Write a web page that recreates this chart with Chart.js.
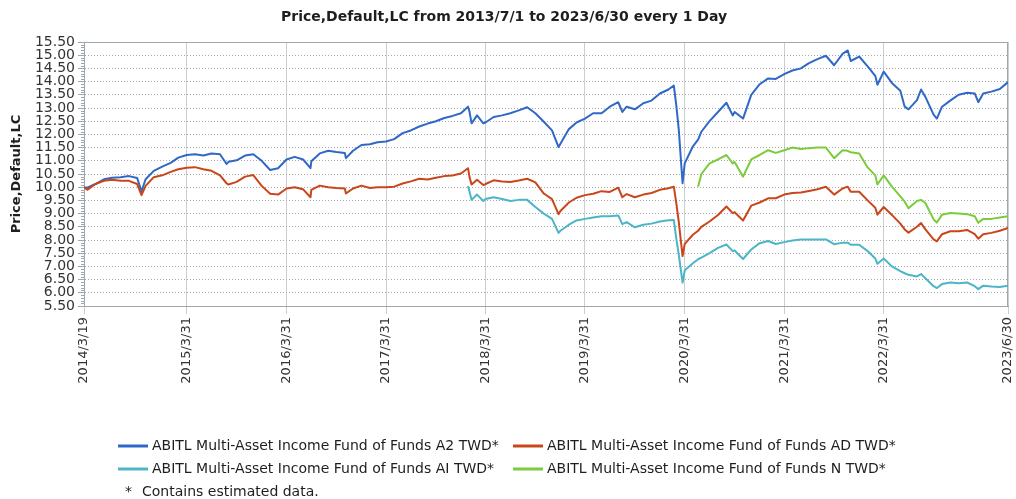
<!DOCTYPE html>
<html>
<head>
<meta charset="utf-8">
<title>ABITL Multi-Asset Income Fund of Funds</title>
<script src="https://cdn.jsdelivr.net/npm/chart.js@4.4.0/dist/chart.umd.min.js"></script>
<style>
  html, body { margin: 0; padding: 0; background: #fff; }
  #wrap { width: 1016px; height: 499px; }
</style>
</head>
<body>
<div id="wrap"><canvas id="priceChart" width="1016" height="499"></canvas></div>
<script>
// dates shared by all series (month ends plus a few turning points)
const dates = [
  "2014-03-19","2014-03-31","2014-04-30","2014-05-31","2014-06-30","2014-07-31","2014-08-31","2014-09-30","2014-10-16","2014-10-31","2014-11-30","2014-12-31",
  "2015-01-31","2015-02-28","2015-03-31","2015-04-30","2015-05-31","2015-06-30","2015-07-31","2015-08-24","2015-08-31","2015-09-30","2015-10-31","2015-11-30","2015-12-31",
  "2016-01-31","2016-02-29","2016-03-31","2016-04-30","2016-05-31","2016-06-27","2016-06-30","2016-07-31","2016-08-31","2016-09-30","2016-10-31","2016-11-04","2016-11-30","2016-12-31",
  "2017-01-31","2017-02-28","2017-03-31","2017-04-30","2017-05-31","2017-06-30","2017-07-31","2017-08-31","2017-09-30","2017-10-31","2017-11-30","2017-12-31",
  "2018-01-26","2018-01-31","2018-02-08","2018-02-28","2018-03-23","2018-03-31","2018-04-30","2018-05-31","2018-06-30","2018-07-31","2018-08-31","2018-09-30","2018-10-31","2018-11-30","2018-12-24","2018-12-31",
  "2019-01-31","2019-02-28","2019-03-31","2019-04-30","2019-05-31","2019-06-30","2019-07-31","2019-08-15","2019-08-31","2019-09-30","2019-10-31","2019-11-30","2019-12-31",
  "2020-01-31","2020-02-20","2020-02-29","2020-03-09","2020-03-23","2020-03-31","2020-04-30","2020-05-19","2020-05-31","2020-06-30","2020-07-31","2020-08-31","2020-09-23","2020-09-30","2020-10-31","2020-11-30","2020-12-31",
  "2021-01-31","2021-02-28","2021-03-31","2021-04-30","2021-05-31","2021-06-30","2021-07-31","2021-08-31","2021-09-30","2021-10-31","2021-11-19","2021-11-30","2021-12-31",
  "2022-01-31","2022-02-28","2022-03-08","2022-03-31","2022-04-30","2022-05-31","2022-06-16","2022-06-30","2022-07-31","2022-08-15","2022-08-31","2022-09-30","2022-10-12","2022-10-31","2022-11-30","2022-12-31",
  "2023-01-31","2023-02-28","2023-03-13","2023-03-31","2023-04-30","2023-05-31","2023-06-30"
];

const seriesNames = [
  "ABITL Multi-Asset Income Fund of Funds A2 TWD*",
  "ABITL Multi-Asset Income Fund of Funds AD TWD*",
  "ABITL Multi-Asset Income Fund of Funds AI TWD*",
  "ABITL Multi-Asset Income Fund of Funds N TWD*"
];

const a2Values = [
  10.00, 9.98, 10.12, 10.30, 10.36, 10.38, 10.42, 10.35, 9.84, 10.30, 10.62, 10.78,
  10.92, 11.12, 11.22, 11.25, 11.20, 11.28, 11.25, 10.88, 10.96, 11.02, 11.20, 11.25, 11.00,
  10.65, 10.72, 11.05, 11.15, 11.05, 10.72, 10.98, 11.28, 11.38, 11.33, 11.30, 11.10, 11.38, 11.60,
  11.63, 11.70, 11.73, 11.82, 12.05, 12.15, 12.30, 12.41, 12.50, 12.62, 12.70, 12.80,
  13.05, 12.88, 12.42, 12.72, 12.42, 12.45, 12.66, 12.72, 12.80, 12.91, 13.03, 12.80, 12.48, 12.15, 11.52, 11.65,
  12.20, 12.45, 12.60, 12.80, 12.80, 13.05, 13.22, 12.85, 13.05, 12.95, 13.18, 13.28, 13.55,
  13.70, 13.85, 13.10, 12.20, 10.15, 10.90, 11.55, 11.80, 12.10, 12.50, 12.85, 13.20, 12.72, 12.85, 12.60, 13.50, 13.90,
  14.12, 14.10, 14.28, 14.42, 14.50, 14.70, 14.85, 14.98, 14.62, 15.05, 15.18, 14.78, 14.95,
  14.58, 14.22, 13.88, 14.38, 13.95, 13.65, 13.05, 12.95, 13.30, 13.70, 13.42, 12.75, 12.60, 13.05, 13.28, 13.50,
  13.58, 13.55, 13.22, 13.55, 13.62, 13.72, 13.98
];

const adValues = [
  10.00, 9.90, 10.12, 10.24, 10.28, 10.24, 10.24, 10.12, 9.70, 10.05, 10.38, 10.45,
  10.58, 10.68, 10.74, 10.76, 10.68, 10.62, 10.45, 10.15, 10.10, 10.20, 10.40, 10.46, 10.05,
  9.75, 9.72, 9.95, 10.00, 9.92, 9.62, 9.90, 10.06, 10.00, 9.97, 9.95, 9.76, 9.95, 10.06,
  9.97, 10.00, 10.00, 10.02, 10.14, 10.22, 10.32, 10.29, 10.36, 10.42, 10.44, 10.52,
  10.72, 10.40, 10.10, 10.28, 10.08, 10.12, 10.26, 10.22, 10.20, 10.25, 10.32, 10.18, 9.76, 9.55, 8.98, 9.10,
  9.42, 9.60, 9.70, 9.75, 9.85, 9.82, 9.98, 9.62, 9.74, 9.62, 9.72, 9.78, 9.90,
  9.96, 10.02, 9.40, 8.70, 7.39, 7.85, 8.20, 8.35, 8.50, 8.70, 8.95, 9.27, 9.02, 9.05, 8.74, 9.30, 9.42,
  9.58, 9.58, 9.72, 9.78, 9.80, 9.86, 9.92, 10.02, 9.72, 9.95, 10.02, 9.83, 9.83,
  9.50, 9.22, 8.96, 9.25, 8.95, 8.62, 8.40, 8.28, 8.50, 8.64, 8.40, 8.02, 7.95, 8.22, 8.33, 8.33,
  8.38, 8.22, 8.05, 8.22, 8.27, 8.35, 8.46
];

const aiStart = "2018-01-26";
const aiValues = [
  10.05, 9.85, 9.52, 9.72, 9.48, 9.55, 9.62, 9.55, 9.48, 9.52, 9.52, 9.25, 9.00, 8.80, 8.27, 8.35,
  8.58, 8.74, 8.80, 8.85, 8.90, 8.90, 8.93, 8.60, 8.68, 8.48, 8.58, 8.62, 8.70,
  8.75, 8.76, 8.05, 7.45, 6.39, 6.85, 7.12, 7.27, 7.33, 7.50, 7.70, 7.83, 7.58, 7.60, 7.28, 7.64, 7.88,
  7.96, 7.85, 7.92, 7.98, 8.02, 8.02, 8.02, 8.02, 7.84, 7.90, 7.90, 7.82, 7.82,
  7.58, 7.30, 7.10, 7.30, 7.00, 6.82, 6.74, 6.68, 6.62, 6.71, 6.55, 6.25, 6.18, 6.33, 6.39, 6.36,
  6.39, 6.25, 6.14, 6.27, 6.24, 6.22, 6.27
];

const nStart = "2020-05-19";
const nValues = [
  10.02, 10.50, 10.90, 11.05, 11.22, 10.90, 10.95, 10.40, 11.05, 11.22,
  11.40, 11.30, 11.40, 11.50, 11.45, 11.48, 11.50, 11.50, 11.10, 11.40, 11.38, 11.32, 11.28,
  10.75, 10.45, 10.10, 10.45, 10.02, 9.65, 9.45, 9.20, 9.48, 9.52, 9.40, 8.78, 8.66, 8.96, 9.02, 9.00,
  8.98, 8.90, 8.65, 8.80, 8.80, 8.85, 8.90
];

const xTickLabels = ["2014/3/19","2015/3/31","2016/3/31","2017/3/31","2018/3/31","2019/3/31","2020/3/31","2021/3/31","2022/3/31","2023/6/30"];
const yMin = 5.5, yMax = 15.5, yStep = 0.5;

const colors = ["#2f68c6", "#c9461a", "#4db5c8", "#7ccb3c"];

function day(s) {
  const p = s.split(/[-\/]/).map(Number);
  return Date.UTC(p[0], p[1] - 1, p[2]) / 86400000;
}

function points(start, values) {
  const i0 = dates.indexOf(start);
  return values.map((v, i) => ({ x: day(dates[i0 + i]), y: v }));
}

const tickByDay = {};
xTickLabels.forEach(l => { tickByDay[day(l)] = l; });

// plot frame
const frame = {
  id: "frame",
  beforeDatasetsDraw(chart) {
    const { ctx, chartArea: a } = chart;
    ctx.save();
    ctx.strokeStyle = "#9ea6ae";
    ctx.lineWidth = 1;
    ctx.strokeRect(a.left + 0.5, a.top + 0.5, a.right - a.left - 1, a.bottom - a.top);
    ctx.restore();
  }
};

// small ticks on the value axis
const minorTicks = {
  id: "minorTicks",
  afterDraw(chart) {
    const { ctx, chartArea: a } = chart;
    const y = chart.scales.y;
    ctx.save();
    ctx.strokeStyle = "#9ea6ae";
    ctx.lineWidth = 1;
    for (let k = 0; k <= 100; k++) {
      if (k % 5 === 0) continue;
      const py = Math.round(y.getPixelForValue(yMin + k * 0.1)) + 0.5;
      ctx.beginPath();
      ctx.moveTo(a.left - 3, py);
      ctx.lineTo(a.left, py);
      ctx.stroke();
    }
    ctx.restore();
  }
};

// two column legend and footnote
const legendBox = {
  id: "legendBox",
  afterDraw(chart) {
    const ctx = chart.ctx;
    const cols = [118, 513];
    const rows = [446, 469];
    ctx.save();
    ctx.font = "14px 'DejaVu Sans'";
    ctx.textBaseline = "middle";
    ctx.fillStyle = "#1e1e1e";
    seriesNames.forEach((name, i) => {
      const x = cols[i % 2], y = rows[Math.floor(i / 2)];
      ctx.strokeStyle = colors[i];
      ctx.lineWidth = 3;
      ctx.beginPath();
      ctx.moveTo(x, y);
      ctx.lineTo(x + 30, y);
      ctx.stroke();
      ctx.fillText(name, x + 34, y);
    });
    ctx.fillText("*", 125, 492);
    ctx.fillText("Contains estimated data.", 142, 492);
    ctx.restore();
  }
};

Chart.defaults.font.family = "'DejaVu Sans', Verdana, sans-serif";
Chart.defaults.color = "#333";

const ctx = document.getElementById("priceChart").getContext("2d");
const myChart = new Chart(ctx, {
  type: "line",
  data: {
    datasets: [
      { label: seriesNames[0], data: points(dates[0], a2Values), borderColor: colors[0], order: 3 },
      { label: seriesNames[1], data: points(dates[0], adValues), borderColor: colors[1], order: 0 },
      { label: seriesNames[2], data: points(aiStart, aiValues), borderColor: colors[2], order: 1 },
      { label: seriesNames[3], data: points(nStart, nValues), borderColor: colors[3], order: 2 }
    ]
  },
  options: {
    responsive: false,
    animation: false,
    layout: { padding: { left: 0, right: 8, top: 0, bottom: 0 } },
    elements: {
      point: { radius: 0 },
      line: { borderWidth: 2, tension: 0, borderJoinStyle: "round", fill: false }
    },
    plugins: {
      legend: { display: false },
      tooltip: { enabled: false },
      title: {
        display: true,
        text: "Price,Default,LC from 2013/7/1 to 2023/6/30 every 1 Day",
        color: "#1e1e1e",
        font: { size: 14, weight: "bold" },
        padding: { top: 8.6, bottom: 16.6 }
      }
    },
    scales: {
      x: {
        type: "linear",
        min: day(xTickLabels[0]),
        max: day(xTickLabels[xTickLabels.length - 1]),
        afterBuildTicks: (scale) => {
          scale.ticks = xTickLabels.map(l => ({ value: day(l) }));
        },
        afterFit: (scale) => {
          scale.height = 193;
          scale.paddingLeft = 0;
          scale.paddingRight = 0;
        },
        ticks: {
          autoSkip: false,
          minRotation: 90,
          maxRotation: 90,
          padding: 3,
          color: "#333",
          font: { size: 13 },
          callback: (v) => tickByDay[v] || ""
        },
        grid: { color: "#c9ced3", tickLength: 8 },
        border: { color: "#9ea6ae" }
      },
      y: {
        min: yMin,
        max: yMax,
        afterBuildTicks: (scale) => {
          const t = [];
          for (let k = 0; k <= (yMax - yMin) / yStep; k++) t.push({ value: yMin + k * yStep });
          scale.ticks = t;
        },
        afterFit: (scale) => { scale.width = 84; },
        ticks: {
          autoSkip: false,
          padding: 3,
          color: "#333",
          font: { size: 14, lineHeight: 1 },
          callback: (v) => Number(v).toFixed(2)
        },
        grid: { color: "#a9a9a9", tickLength: 6, tickColor: "#9ea6ae" },
        border: { color: "#9ea6ae", dash: [1, 2] },
        title: {
          display: true,
          text: "Price,Default,LC",
          color: "#1e1e1e",
          font: { size: 13, weight: "bold" },
          padding: { top: 9, bottom: 0 }
        }
      }
    }
  },
  plugins: [frame, minorTicks, legendBox]
});
</script>
</body>
</html>
